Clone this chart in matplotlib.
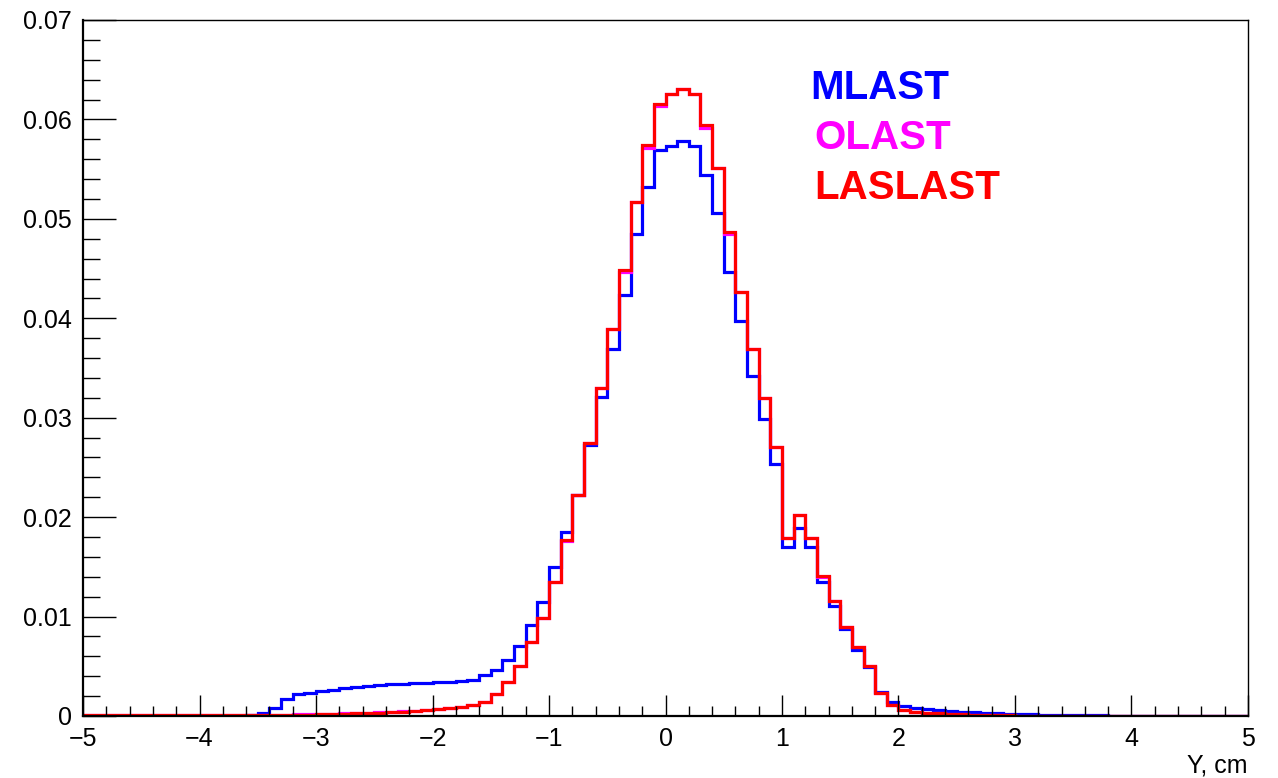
import numpy as np
import matplotlib.pyplot as plt
from matplotlib.ticker import MultipleLocator

plt.rcParams['font.family'] = ['Liberation Sans', 'DejaVu Sans']

# 100 bins of 0.1 cm between -5 and 5
edges = np.linspace(-5, 5, 101)

mlast = [
    0, 0, 0, 0, 0, 0, 0, 0, 0, 0,
    0, 0, 0, 0, 0.0001, 0.0003, 0.0008, 0.0017, 0.0022, 0.0023,
    0.0025, 0.0026, 0.0028, 0.0029, 0.0030, 0.0031, 0.0032, 0.0032, 0.0033, 0.0033,
    0.0034, 0.0034, 0.0035, 0.0036, 0.0041, 0.0046, 0.0056, 0.0070, 0.0092, 0.0115,
    0.0150, 0.0185, 0.0222, 0.0273, 0.0321, 0.0369, 0.0423, 0.0485, 0.0532, 0.0569,
    0.0573, 0.0578, 0.0573, 0.0544, 0.0506, 0.0447, 0.0397, 0.0342, 0.0299, 0.0253,
    0.0170, 0.0189, 0.0170, 0.0135, 0.0111, 0.0087, 0.0066, 0.0049, 0.0024, 0.0014,
    0.0010, 0.0008, 0.0007, 0.0006, 0.0005, 0.0004, 0.0004, 0.0003, 0.0003, 0.0002,
    0.0002, 0.0002, 0.0001, 0.0001, 0.0001, 0.0001, 0.0001, 0.0001, 0, 0,
    0, 0, 0, 0, 0, 0, 0, 0, 0, 0,
]

olast = [
    0.00005, 0.00005, 0.00005, 0.00005, 0.00005, 0.00005, 0.00005, 0.00005, 0.00005, 0.00005,
    0.0001, 0.0001, 0.0001, 0.0001, 0.0001, 0.0001, 0.00015, 0.00015, 0.0002, 0.0002,
    0.00025, 0.00025, 0.0003, 0.00035, 0.00035, 0.0004, 0.00045, 0.0005, 0.00055, 0.00065,
    0.00075, 0.00085, 0.00095, 0.00115, 0.0014, 0.0022, 0.0034, 0.0050, 0.0074, 0.0099,
    0.0135, 0.0176, 0.0222, 0.0275, 0.0330, 0.0389, 0.0447, 0.0517, 0.0571, 0.0614,
    0.0626, 0.0631, 0.0626, 0.0591, 0.0551, 0.0485, 0.0426, 0.0369, 0.0320, 0.0271,
    0.0179, 0.0202, 0.0179, 0.0140, 0.0116, 0.0090, 0.0069, 0.0050, 0.0023, 0.0011,
    0.0006, 0.0004, 0.0003, 0.0003, 0.0002, 0.0002, 0.0001, 0.0001, 0.0001, 0.0001,
    0, 0, 0, 0, 0, 0, 0, 0, 0, 0,
    0, 0, 0, 0, 0, 0, 0, 0, 0, 0,
]

laslast = [
    0.00005, 0.00005, 0.00005, 0.00005, 0.00005, 0.00005, 0.00005, 0.00005, 0.00005, 0.00005,
    0.0001, 0.0001, 0.0001, 0.0001, 0.0001, 0.0001, 0.00015, 0.00015, 0.00015, 0.00015,
    0.0002, 0.0002, 0.00025, 0.0003, 0.0003, 0.00035, 0.0004, 0.00045, 0.0005, 0.0006,
    0.0007, 0.0008, 0.0009, 0.0011, 0.0014, 0.0022, 0.0034, 0.0050, 0.0074, 0.0099,
    0.0135, 0.0177, 0.0222, 0.0275, 0.0330, 0.0389, 0.0449, 0.0517, 0.0574, 0.0616,
    0.0626, 0.0631, 0.0626, 0.0594, 0.0551, 0.0487, 0.0426, 0.0369, 0.0320, 0.0271,
    0.0179, 0.0202, 0.0179, 0.0141, 0.0116, 0.0090, 0.0069, 0.0050, 0.0023, 0.0011,
    0.0006, 0.0004, 0.0003, 0.0003, 0.0002, 0.0002, 0.0001, 0.0001, 0.0001, 0.0001,
    0, 0, 0, 0, 0, 0, 0, 0, 0, 0,
    0, 0, 0, 0, 0, 0, 0, 0, 0, 0,
]

series = [("MLAST", mlast, "#0000ff"),
          ("OLAST", olast, "#ff00ff"),
          ("LASLAST", laslast, "#ff0000")]

yticks = [0, 0.01, 0.02, 0.03, 0.04, 0.05, 0.06, 0.07]
ytick_labels = ["0", "0.01", "0.02", "0.03", "0.04", "0.05", "0.06", "0.07"]

fig = plt.figure(figsize=(12.78, 7.78), dpi=100)
ax = fig.add_axes([0.065, 0.0797, 0.9115, 0.8946])

for name, vals, col in series:
    ax.stairs(vals, edges, color=col, linewidth=2.3, baseline=None)

ax.set_xlim(-5, 5)
ax.set_ylim(0, 0.07)

ax.set_yticks(yticks)
ax.set_yticklabels(ytick_labels)
ax.set_xticks(np.arange(-5, 6, 1))
ax.xaxis.set_minor_locator(MultipleLocator(0.2))
ax.yaxis.set_minor_locator(MultipleLocator(0.002))

ax.tick_params(axis='both', which='both', direction='in', top=False, right=False,
               labelsize=18, width=1.0, color='black')
ax.tick_params(axis='y', which='major', length=24, pad=8)
ax.tick_params(axis='y', which='minor', length=12)
ax.tick_params(axis='x', which='major', length=15, pad=8)
ax.tick_params(axis='x', which='minor', length=7.5)

for side in ['left', 'bottom']:
    ax.spines[side].set_linewidth(1.6)
for side in ['top', 'right']:
    ax.spines[side].set_linewidth(1.0)

ax.set_xlabel("Y, cm", fontsize=18, loc='right', labelpad=2)

# legend-like labels in the upper right
ax.text(1.24, 0.0632, "MLAST", color="#0000ff", fontsize=29, fontweight='bold', va='center')
ax.text(1.28, 0.0581, "OLAST", color="#ff00ff", fontsize=29, fontweight='bold', va='center')
ax.text(1.28, 0.0531, "LASLAST", color="#ff0000", fontsize=29, fontweight='bold', va='center')

fig.savefig("out.png", dpi=100)
